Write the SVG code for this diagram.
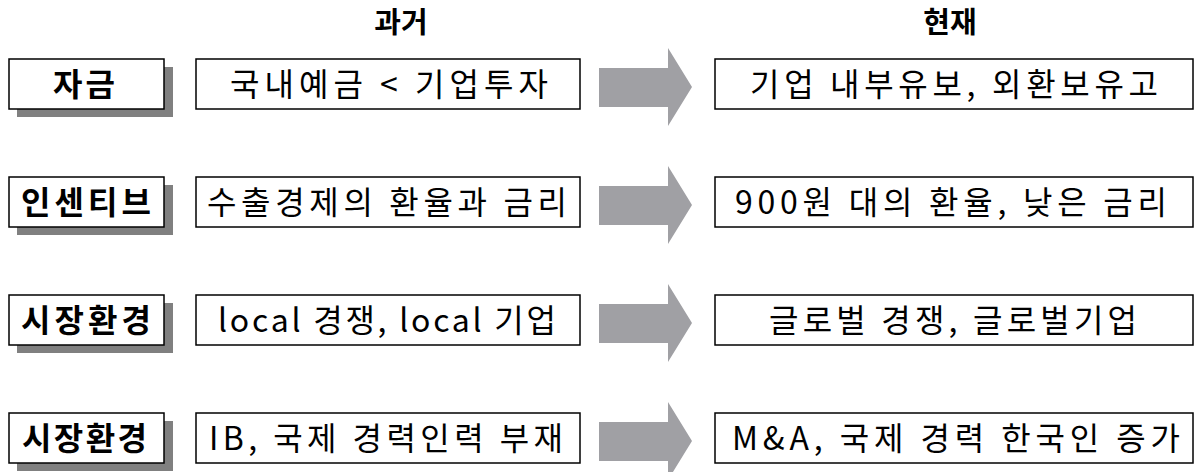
<svg xmlns="http://www.w3.org/2000/svg" width="1198" height="472" viewBox="0 0 1198 472">
<style>
.bg{fill:#ffffff}
.box{fill:#ffffff;stroke:#000000;stroke-width:1.5}
.shadow{fill:#808080}
.arrow{fill:#a0a0a4}
.lbl{font-family:"Noto Sans CJK KR","Noto Sans",sans-serif;font-size:32px;font-weight:bold;fill:#000000}
.txt{font-family:"Noto Sans CJK KR","Noto Sans",sans-serif;font-size:32px;fill:#000000}
.hdr{font-family:"Noto Sans CJK KR","Noto Sans",sans-serif;font-size:29px;font-weight:bold;fill:#000000}
</style>
<rect class="bg" x="0" y="0" width="1198" height="472"/>
<g id="header-past"><text class="hdr" x="401" y="33" text-anchor="middle">과거</text></g>
<g id="header-now"><text class="hdr" x="950" y="33" text-anchor="middle">현재</text></g>

<g id="connectors">
<polygon class="arrow" points="599,68 668,68 668,48 692,87 668,126 668,107 599,107"/>
<polygon class="arrow" points="599,186 668,186 668,166 692,205 668,244 668,225 599,225"/>
<polygon class="arrow" points="599,304 668,304 668,284 692,323 668,362 668,343 599,343"/>
<polygon class="arrow" points="599,422 668,422 668,402 692,441 668,480 668,461 599,461"/>
</g>

<g id="label-1">
<rect class="shadow" x="17" y="67" width="156" height="50"/>
<rect class="box" x="9" y="59" width="155" height="50"/>
<text class="lbl" x="53" y="96" textLength="62" lengthAdjust="spacing">자금</text>
</g>
<g id="past-1">
<rect class="box" x="196" y="59" width="384" height="50"/>
<text class="txt" x="230" y="96" textLength="318" lengthAdjust="spacing">국내예금 &lt; 기업투자</text>
</g>
<g id="now-1">
<rect class="box" x="715" y="59" width="478" height="50"/>
<text class="txt" x="750" y="96" textLength="408" lengthAdjust="spacing">기업 내부유보, 외환보유고</text>
</g>

<g id="label-2">
<rect class="shadow" x="17" y="185" width="156" height="50"/>
<rect class="box" x="9" y="177" width="155" height="50"/>
<text class="lbl" x="21" y="214" textLength="130" lengthAdjust="spacing">인센티브</text>
</g>
<g id="past-2">
<rect class="box" x="196" y="177" width="384" height="50"/>
<text class="txt" x="207" y="214" textLength="360" lengthAdjust="spacing">수출경제의 환율과 금리</text>
</g>
<g id="now-2">
<rect class="box" x="715" y="177" width="478" height="50"/>
<text class="txt" x="735" y="214" textLength="432" lengthAdjust="spacing">900원 대의 환율, 낮은 금리</text>
</g>

<g id="label-3">
<rect class="shadow" x="17" y="303" width="156" height="50"/>
<rect class="box" x="9" y="295" width="155" height="50"/>
<text class="lbl" x="21" y="332" textLength="130" lengthAdjust="spacing">시장환경</text>
</g>
<g id="past-3">
<rect class="box" x="196" y="295" width="384" height="50"/>
<text class="txt" x="218" y="332" textLength="338" lengthAdjust="spacing">local 경쟁, local 기업</text>
</g>
<g id="now-3">
<rect class="box" x="715" y="295" width="478" height="50"/>
<text class="txt" x="769" y="332" textLength="368" lengthAdjust="spacing">글로벌 경쟁, 글로벌기업</text>
</g>

<g id="label-4">
<rect class="shadow" x="17" y="421" width="156" height="50"/>
<rect class="box" x="9" y="413" width="155" height="50"/>
<text class="lbl" x="22" y="450" textLength="125" lengthAdjust="spacing">시장환경</text>
</g>
<g id="past-4">
<rect class="box" x="196" y="413" width="384" height="50"/>
<text class="txt" x="209" y="450" textLength="354" lengthAdjust="spacing">IB, 국제 경력인력 부재</text>
</g>
<g id="now-4">
<rect class="box" x="715" y="413" width="478" height="50"/>
<text class="txt" x="732" y="450" textLength="448" lengthAdjust="spacing">M&amp;A, 국제 경력 한국인 증가</text>
</g>
</svg>
